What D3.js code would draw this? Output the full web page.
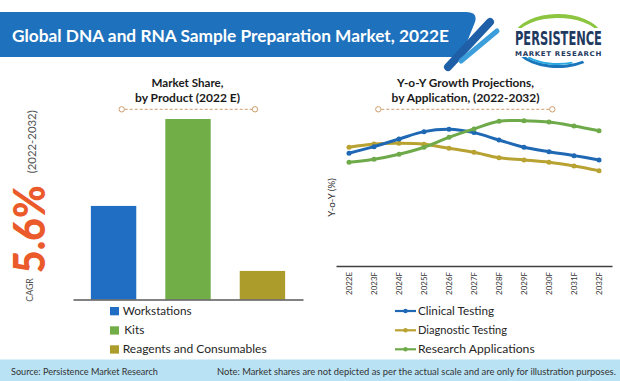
<!DOCTYPE html>
<html><head><meta charset="utf-8">
<script src="https://cdn.jsdelivr.net/npm/d3@7"></script>
<style>
html,body{margin:0;padding:0;background:#fff;}
svg{display:block;font-family:Lato,"Open Sans",sans-serif;}
</style></head><body>
<svg id="c" width="620" height="381"></svg>
<script>
// ---------- data ----------
const chartTitle = "Global DNA and RNA Sample Preparation Market, 2022E";
const products = ["Workstations", "Kits", "Reagents and Consumables"];
const productShare = [31.1, 60, 9.5];
const productColors = ["#1f6ec4", "#72ae48", "#ab9c2b"];

const years = ["2022E","2023F","2024F","2025F","2026F","2027F","2028F","2029F","2030F","2031F","2032F"];
const clinicalTesting   = [5.78, 6.12, 6.51, 6.89, 7.01, 6.84, 6.46, 6.09, 5.86, 5.66, 5.44];
const diagnosticTesting = [6.09, 6.26, 6.29, 6.24, 6.04, 5.83, 5.55, 5.44, 5.32, 5.13, 4.89];
const researchApps      = [5.32, 5.47, 5.73, 6.09, 6.60, 7.03, 7.42, 7.45, 7.38, 7.18, 6.94];
const seriesNames = ["Clinical Testing", "Diagnostic Testing", "Research Applications"];
const seriesColors = ["#1f68b4", "#b8a232", "#6faa4a"];

const cagrLabel = "CAGR", cagrValue = "5.6%", cagrPeriod = "(2022-2032)";
const sourceText = "Source: Persistence Market Research";
const noteText = "Note: Market shares are not depicted as per the actual scale and are only for illustration purposes.";

// ---------- helpers ----------
const svg = d3.select("#c");
function fit(sel, target) {
  const fs = parseFloat(sel.attr("font-size"));
  const w = sel.node().getComputedTextLength();
  sel.attr("font-size", (fs * target / w).toFixed(2));
  return sel;
}
function squeeze(sel, target) {
  sel.attr("textLength", target).attr("lengthAdjust", "spacingAndGlyphs");
  return sel;
}
// horizontal scaling via transform so the text box really is the target width
function hscale(sel, x, y, target) {
  const w = sel.node().getComputedTextLength();
  sel.attr("x", 0).attr("y", 0)
    .attr("transform", `translate(${x},${y}) scale(${(target / w).toFixed(4)},1)`);
  return sel;
}

// ---------- header ----------
svg.append("path")
  .attr("d", "M0,12 L466,12 Q478,12 475,22 L461,57 L0,57 Z")
  .attr("fill", "#1e71bc");
svg.append("line").attr("x1", 448).attr("y1", 67).attr("x2", 490).attr("y2", 22)
  .attr("stroke", "#1f5fa8").attr("stroke-width", 8).attr("stroke-linecap", "round");
svg.append("line").attr("x1", 461).attr("y1", 61).attr("x2", 497).attr("y2", 31)
  .attr("stroke", "#3c9ddb").attr("stroke-width", 5).attr("stroke-linecap", "round");
squeeze(svg.append("text").attr("x", 12).attr("y", 42).attr("font-size", 17.5)
  .attr("font-weight", "bold").attr("fill", "#fff").text(chartTitle), 437);

// logo
(function () {
  const cx = 558, cy = 41;
  const P = (rx, ry, deg) => {
    const t = deg * Math.PI / 180;
    return [cx + rx * Math.cos(t), cy - ry * Math.sin(t)];
  };
  const a = P(46, 27, 165), b = P(46, 27, 18), c = P(44, 23, 18), d = P(44, 23, 165);
  svg.append("path")
    .attr("d", `M${a} A46 27 0 0 1 ${b} L${c} A44 23 0 0 0 ${d} Z`)
    .attr("fill", "#8cc540");
  const e = P(46, 27, 212), f = P(46, 27, 305), g = P(43, 24, 305), h = P(43, 24, 212);
  svg.append("path")
    .attr("d", `M${e} A46 27 0 0 0 ${f} L${g} A43 24 0 0 1 ${h} Z`)
    .attr("fill", "#1b75bb");
  const i1 = P(42, 23, 225), i2 = P(42, 23, 290);
  svg.append("path").attr("d", `M${i1} A42 23 0 0 0 ${i2}`)
    .attr("fill", "none").attr("stroke", "#29a9e0").attr("stroke-width", 2);
  svg.append("rect").attr("x", 513).attr("y", 28).attr("width", 91).attr("height", 29).attr("fill", "#fff");
  const t1 = svg.append("text").attr("font-size", 19.5)
    .attr("font-family", "'DejaVu Sans Condensed','Liberation Sans Narrow',sans-serif")
    .attr("font-stretch", "condensed")
    .attr("font-weight", "bold").attr("fill", "#1f3a60").text("PERSISTENCE");
  hscale(t1, 515, 45, 87);
  const t2 = svg.append("text").attr("font-size", 6.6)
    .attr("font-family", "'DejaVu Sans',sans-serif")
    .attr("font-weight", "bold").attr("fill", "#1f3a60")
    .attr("letter-spacing", 0.6).text("MARKET RESEARCH");
  hscale(t2, 515, 56, 87);
})();

// ---------- CAGR ----------
svg.append("text").attr("transform", "translate(33.3,301.7) rotate(-90)")
  .attr("font-size", 13).attr("fill", "#555")
  .call(s => s.text(cagrLabel)).call(s => fit(s, 23.5));
squeeze(svg.append("text").attr("transform", "translate(45,273.3) rotate(-90)")
  .attr("font-size", 44).attr("font-weight", 900).attr("fill", "#ea5a2a").text(cagrValue), 88);
svg.append("text").attr("transform", "translate(35.5,173.3) rotate(-90)")
  .attr("font-size", 11).attr("fill", "#555")
  .call(s => s.text(cagrPeriod)).call(s => fit(s, 63));

// ---------- section titles ----------
function sectionTitle(cx, l1, w1, l2, w2, x1, x2) {
  fit(svg.append("text").attr("x", cx).attr("y", 87).attr("text-anchor", "middle")
    .attr("font-size", 12).attr("font-weight", "bold").attr("fill", "#1a1a1a").text(l1), w1);
  fit(svg.append("text").attr("x", cx).attr("y", 101.5).attr("text-anchor", "middle")
    .attr("font-size", 12).attr("font-weight", "bold").attr("fill", "#1a1a1a").text(l2), w2);
  svg.append("line").attr("x1", x1 + 3).attr("x2", x2 - 3).attr("y1", 109.3).attr("y2", 109.3)
    .attr("stroke", "#c8925c").attr("stroke-width", 0.9).attr("stroke-dasharray", "3,2");
  [x1, x2].forEach(x => svg.append("circle").attr("cx", x).attr("cy", 109.3).attr("r", 2.7)
    .attr("fill", "#fff").attr("stroke", "#c8925c").attr("stroke-width", 0.9));
}
sectionTitle(187.5, "Market Share,", 72, "by Product (2022 E)", 105, 121.7, 255);
sectionTitle(465.5, "Y-o-Y Growth Projections,", 137, "by Application, (2022-2032)", 148, 378.3, 552.3);

// ---------- bar chart ----------
const xb = d3.scaleBand().domain(products).range([73, 303]).paddingInner(0.39).paddingOuter(0.24);
const yb = d3.scaleLinear().domain([0, 60]).range([299.5, 119]);
svg.append("g").selectAll("rect").data(products).join("rect")
  .attr("x", d => xb(d)).attr("width", xb.bandwidth())
  .attr("y", (d, i) => yb(productShare[i])).attr("height", (d, i) => yb(0) - yb(productShare[i]))
  .attr("fill", (d, i) => productColors[i]);
const gxb = svg.append("g").attr("transform", `translate(0,${yb(0)})`)
  .call(d3.axisBottom(xb).tickSize(0).tickFormat(""));
gxb.select(".domain").attr("stroke", "#595959").attr("stroke-width", 1.3);

// bar legend
const legY = [315, 334.3, 353.3];
const legW = [69, 20, 144];
products.forEach((p, i) => {
  svg.append("rect").attr("x", 110).attr("y", legY[i] - 8).attr("width", 9).attr("height", 8.3)
    .attr("fill", productColors[i]);
  fit(svg.append("text").attr("x", i === 1 ? 124.3 : 122.7).attr("y", legY[i]).attr("font-size", 12.5)
    .attr("fill", "#262626").text(p), legW[i]);
});

// ---------- line chart ----------
const xl = d3.scalePoint().domain(years).range([336, 612]).padding(0.52);
const yl = d3.scaleLinear().domain([0, 8]).range([266, 110]);
const gxl = svg.append("g").attr("transform", `translate(0,${yl(0)})`)
  .call(d3.axisBottom(xl).tickSize(0).tickSizeOuter(0));
gxl.select(".domain").attr("stroke", "#404040").attr("stroke-width", 1.3);
gxl.selectAll(".tick text")
  .attr("transform", "rotate(-90)").attr("text-anchor", "end")
  .attr("x", -6).attr("y", 0).attr("dy", "0.35em")
  .attr("font-family", "Lato,sans-serif").attr("font-size", 9.3).attr("fill", "#333");
const tk = gxl.select(".tick text");
const tkw = tk.node().getComputedTextLength();
gxl.selectAll(".tick text").attr("font-size", (9.3 * 23 / tkw).toFixed(2));

fit(svg.append("text").attr("transform", "translate(334.5,197.5) rotate(-90)")
  .attr("text-anchor", "middle").attr("font-size", 10).attr("fill", "#333").text("Y-o-Y (%)"), 38.5);

const allSeries = [clinicalTesting, diagnosticTesting, researchApps];
const line = d3.line().x((d, i) => xl(years[i])).y(d => yl(d)).curve(d3.curveCatmullRom.alpha(0.5));
const drawOrder = [1, 0, 2];
drawOrder.forEach(k => {
  const g = svg.append("g");
  g.append("path").datum(allSeries[k]).attr("d", line).attr("fill", "none")
    .attr("stroke", seriesColors[k]).attr("stroke-width", 3).attr("stroke-linejoin", "round");
  g.selectAll("circle").data(allSeries[k]).join("circle")
    .attr("cx", (d, i) => xl(years[i])).attr("cy", d => yl(d)).attr("r", 2.5)
    .attr("fill", seriesColors[k]);
});

// line legend
const lineLegW = [76, 89, 116.7];
seriesNames.forEach((s, i) => {
  const cy = legY[i] - 4;
  svg.append("line").attr("x1", 395).attr("x2", 416).attr("y1", cy).attr("y2", cy)
    .attr("stroke", seriesColors[i]).attr("stroke-width", 2.2);
  svg.append("circle").attr("cx", 405.5).attr("cy", cy).attr("r", 2.2).attr("fill", seriesColors[i]);
  fit(svg.append("text").attr("x", 418).attr("y", legY[i]).attr("font-size", 12.5)
    .attr("fill", "#262626").text(s), lineLegW[i]);
});

// ---------- footer ----------
svg.append("rect").attr("x", 0).attr("y", 359.5).attr("width", 620).attr("height", 21.5).attr("fill", "#b9e2f4");
fit(svg.append("text").attr("x", 11).attr("y", 375).attr("font-size", 10).attr("fill", "#333").text(sourceText), 147);
fit(svg.append("text").attr("x", 217).attr("y", 375).attr("font-size", 10).attr("fill", "#333").text(noteText), 399);
</script>
</body></html>
